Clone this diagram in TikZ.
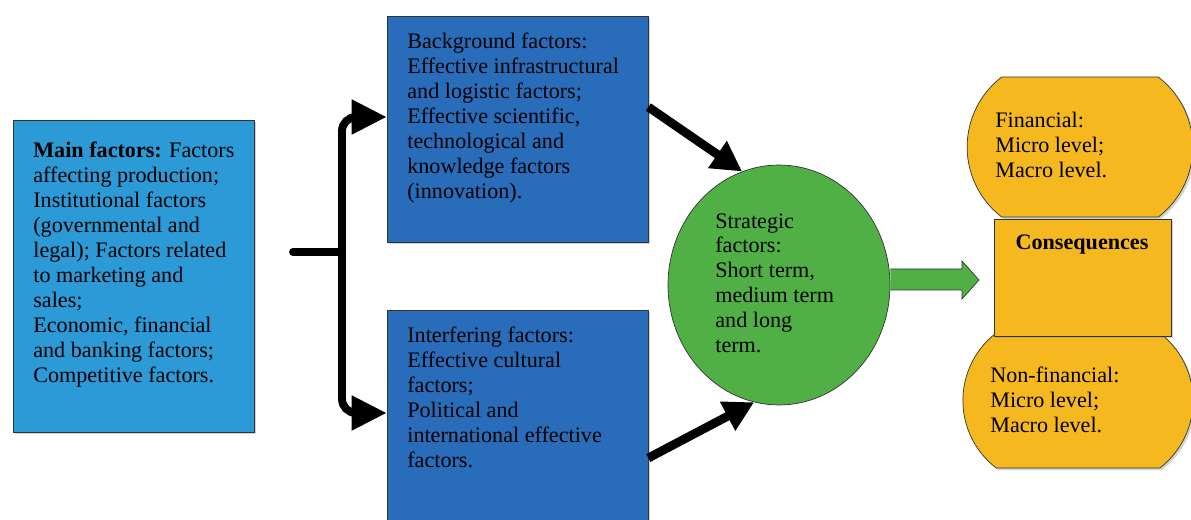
\documentclass[tikz,border=0pt]{standalone}
\usepackage{fontspec}
\setmainfont{Liberation Serif}
\usetikzlibrary{arrows.meta}
\usetikzlibrary{positioning}
\usetikzlibrary{shapes.geometric,shapes.misc,shadows}

\definecolor{mainblue}{RGB}{44,154,214}
\definecolor{darkblue}{RGB}{41,108,185}
\definecolor{stratgreen}{RGB}{80,176,70}
\definecolor{consyellow}{RGB}{245,184,30}

\begin{document}
\begin{tikzpicture}[x=0.02cm, y=-0.02cm,
		boxshadow/.style={drop shadow={shadow xshift=1.2pt,shadow yshift=-1.2pt,opacity=0.35}},
		factorbox/.style={rectangle,draw=black!80,thin,inner sep=0pt,boxshadow},
		consround/.style={rounded rectangle,rounded rectangle arc length=105,draw=black!80,thin,fill=consyellow,boxshadow},
		txt/.style={anchor=north west,inner sep=0pt,align=left,font=\fontsize{12.6}{14.2}\selectfont},
		braceline/.style={line width=4.5pt,line cap=round},
		brace/.style={line width=4.5pt,rounded corners=8pt,-{Triangle[length=0.7cm,width=0.66cm]}},
		fatarrow/.style={line width=5pt,-{Triangle[length=0.6cm,width=0.62cm]}}]
		
		\useasboundingbox (0,0) rectangle (1191,520);
		
		% Boxes
		\node[factorbox,fill=mainblue,minimum width=4.82cm,minimum height=6.24cm] (main) at (133.5,276) {}; % main factors
		\node[factorbox,fill=darkblue,minimum width=5.22cm,minimum height=4.52cm] (bg) at (517.5,129) {}; % background
		\node[factorbox,fill=darkblue,minimum width=5.22cm,minimum height=4.7cm] (inter) at (517.5,427.5) {}; % interfering
		\node[ellipse,draw=black!80,thin,fill=stratgreen,inner sep=0pt,minimum width=4.44cm,minimum height=4.8cm] (strat) at (779,285) {}; % strategic
		
		% Consequences
		\node[consround,minimum width=4.75cm,minimum height=2.8cm] (fin) at (1080,147) {}; % financial
		\node[consround,minimum width=4.84cm,minimum height=2.7cm] (nonfin) at (1078,400.5) {}; % non-financial
		\node[factorbox,fill=consyellow,minimum width=3.54cm,minimum height=2.34cm] (cons) at (1082.5,277.5) {};
		
		% Texts
		\node[txt] (maintxt) at (33,142) {\textbf{Main factors:} Factors\\ affecting production;\\ Institutional factors\\ (governmental and\\ legal); Factors related\\ to marketing and\\ sales;\\ Economic, financial\\ and banking factors;\\ Competitive factors.};
		\node[txt] (bgtxt) at (407,33) {Background factors:\\ Effective infrastructural\\ and logistic factors;\\ Effective scientific,\\ technological and\\ knowledge factors\\ (innovation).};
		\node[txt] (intertxt) at (407,327) {Interfering factors:\\ Effective cultural\\ factors;\\ Political and\\ international effective\\ factors.};
		\node[txt] (strattxt) at (715,213) {Strategic\\ factors:\\ Short term,\\ medium term\\ and long\\ term.};
		\node[txt] (fintxt) at (995,112) {Financial:\\ Micro level;\\ Macro level.};
		\node[txt] (nonfintxt) at (990,367) {Non-financial:\\ Micro level;\\ Macro level.};
		\node[txt,anchor=center,font=\fontsize{12.6}{14.2}\selectfont\bfseries] (constxt) at (1082,245) {Consequences};
		
		% Brace
		\coordinate (stub) at (293,252);
		\coordinate (cusp) at (342,252);
		\draw[braceline] (stub) -- (cusp);
		\draw[brace] (cusp) |- ([yshift=0.24cm]bg.west);
		\draw[brace] (cusp) |- ([yshift=0.29cm]inter.west);
		
		% Arrows to strategic factors
		\draw[fatarrow] ([yshift=0.44cm]bg.east) -- (strat.108);
		\draw[fatarrow] ([yshift=-0.61cm]inter.east) -- (strat.258);
		
		% Block arrow
		\coordinate (tip) at (979,280);
		\draw[draw=black!80,thin,fill=stratgreen] (strat.east |- 0,269) -- (962,269) -- (962,261) -- (tip) -- (962,299) -- (962,290) -- (strat.east |- 0,290);
		
\end{tikzpicture}
\end{document}
